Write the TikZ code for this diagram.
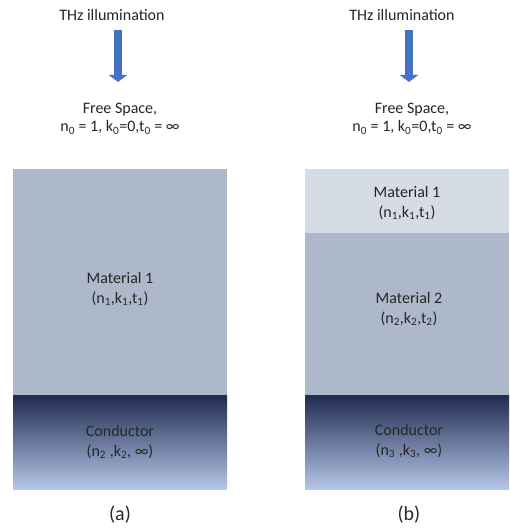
\documentclass[tikz,border=0pt]{standalone}
\usepackage{fontspec}
\setmainfont{Carlito}
\usetikzlibrary{arrows.meta}
\definecolor{layerblue}{HTML}{ADB8CA}
\definecolor{layerlight}{HTML}{D6DCE5}
\definecolor{condtop}{HTML}{1F2B4F}
\definecolor{condmid}{HTML}{8593B8}
\definecolor{condbot}{HTML}{B4C6E7}
\definecolor{beamblue}{HTML}{4472C4}
\definecolor{labelgray}{HTML}{262626}

\begin{document}
\begin{tikzpicture}[x=1pt,y=-1pt,
    lbl/.style={text=labelgray, font=\fontsize{16}{20}\selectfont, align=center, inner sep=0pt},
    beam/.style={beamblue, line width=8pt, -{Triangle[width=18pt,length=7pt]}}]
    \useasboundingbox (0,0) rectangle (509,529);

    % panel (a)
    \fill[layerblue] (13,169) rectangle (227,395);
    \shade[top color=condtop, middle color=condmid, bottom color=condbot] (13,395) rectangle (227,489);
    \node[lbl] (illumA) at (112,15) {THz illumination};
    \coordinate (beamA) at (118,30);
    \coordinate (hitA) at (118,82);
    \draw[beam] (beamA) -- (hitA);
    \node[lbl, font=\fontsize{16}{18}\selectfont] (freeA) at (120,119) {Free Space,\\n\textsubscript{0} = 1, k\textsubscript{0}=0,t\textsubscript{0} = ∞};
    \node[lbl] (matA) at (120,289) {Material 1\\(n\textsubscript{1},k\textsubscript{1},t\textsubscript{1})};
    \node[lbl] (condA) at (120,442) {Conductor\\(n\textsubscript{2} ,k\textsubscript{2}, ∞)};
    \node[lbl, font=\fontsize{20}{22}\selectfont] (capA) at (120,515) {(a)};

    % panel (b)
    \fill[layerlight] (305,169) rectangle (509,233);
    \fill[layerblue] (305,233) rectangle (509,395);
    \shade[top color=condtop, middle color=condmid, bottom color=condbot] (305,395) rectangle (509,489);
    \node[lbl] (illumB) at (402,15) {THz illumination};
    \coordinate (beamB) at (409,30);
    \coordinate (hitB) at (409,82);
    \draw[beam] (beamB) -- (hitB);
    \node[lbl, font=\fontsize{16}{18}\selectfont] (freeB) at (412,119) {Free Space,\\n\textsubscript{0} = 1, k\textsubscript{0}=0,t\textsubscript{0} = ∞};
    \node[lbl] (mat1B) at (407,203) {Material 1\\(n\textsubscript{1},k\textsubscript{1},t\textsubscript{1})};
    \node[lbl] (mat2B) at (409,309) {Material 2\\(n\textsubscript{2},k\textsubscript{2},t\textsubscript{2})};
    \node[lbl] (condB) at (409,441) {Conductor\\(n\textsubscript{3} ,k\textsubscript{3}, ∞)};
    \node[lbl, font=\fontsize{20}{22}\selectfont] (capB) at (409,515) {(b)};
\end{tikzpicture}
\end{document}
